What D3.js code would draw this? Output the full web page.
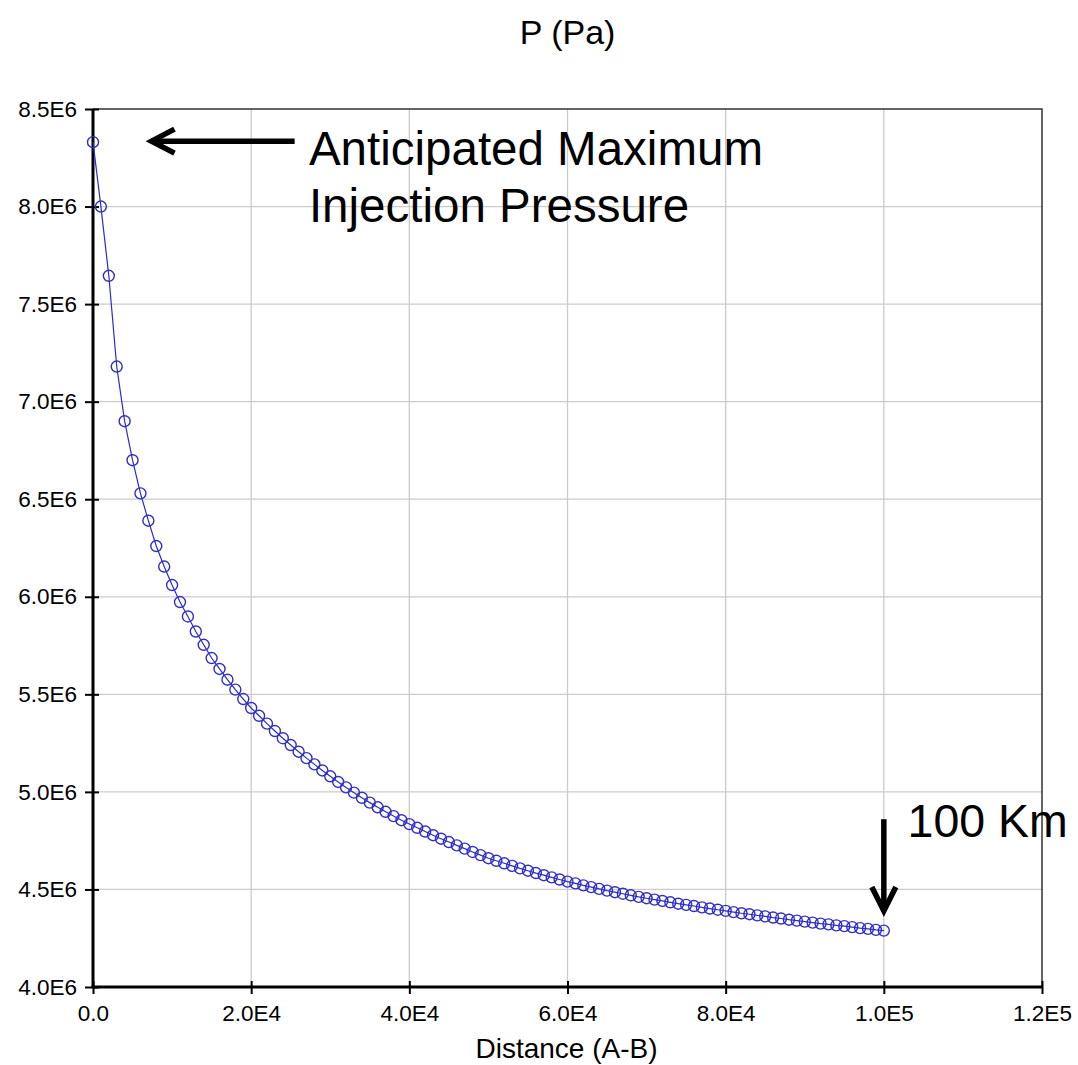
<!DOCTYPE html>
<html lang="en">
<head>
    <meta charset="UTF-8">
    <title>P (Pa) vs Distance (A-B)</title>
    <script src="https://d3js.org/d3.v7.min.js"></script>
    <style>
        body {
            margin: 0;
            background: #ffffff;
        }
        #chart text {
            font-family: 'Liberation Sans', Arial, sans-serif;
            fill: #000;
        }
    </style>
</head>
<body>
    <div id="chart"></div>

    <script>
        // distance along A-B (m)
        const distance = [
            0, 1000, 2000, 3000, 4000, 5000, 6000, 7000, 8000, 9000,
            10000, 11000, 12000, 13000, 14000, 15000, 16000, 17000, 18000, 19000,
            20000, 21000, 22000, 23000, 24000, 25000, 26000, 27000, 28000, 29000,
            30000, 31000, 32000, 33000, 34000, 35000, 36000, 37000, 38000, 39000,
            40000, 41000, 42000, 43000, 44000, 45000, 46000, 47000, 48000, 49000,
            50000, 51000, 52000, 53000, 54000, 55000, 56000, 57000, 58000, 59000,
            60000, 61000, 62000, 63000, 64000, 65000, 66000, 67000, 68000, 69000,
            70000, 71000, 72000, 73000, 74000, 75000, 76000, 77000, 78000, 79000,
            80000, 81000, 82000, 83000, 84000, 85000, 86000, 87000, 88000, 89000,
            90000, 91000, 92000, 93000, 94000, 95000, 96000, 97000, 98000, 99000,
            100000
        ];

        // pressure (Pa)
        const pressure = [
            8.330e6, 8.000e6, 7.645e6, 7.180e6, 6.900e6, 6.700e6, 6.530e6, 6.390e6, 6.260e6, 6.155e6,
            6.060e6, 5.973e6, 5.899e6, 5.822e6, 5.754e6, 5.686e6, 5.630e6, 5.575e6, 5.524e6, 5.476e6,
            5.430e6, 5.390e6, 5.350e6, 5.312e6, 5.275e6, 5.240e6, 5.206e6, 5.173e6, 5.141e6, 5.110e6,
            5.080e6, 5.051e6, 5.023e6, 4.996e6, 4.970e6, 4.945e6, 4.921e6, 4.898e6, 4.876e6, 4.855e6,
            4.835e6, 4.816e6, 4.797e6, 4.778e6, 4.760e6, 4.743e6, 4.726e6, 4.709e6, 4.692e6, 4.676e6,
            4.660e6, 4.647e6, 4.634e6, 4.621e6, 4.608e6, 4.596e6, 4.584e6, 4.573e6, 4.562e6, 4.551e6,
            4.540e6, 4.531e6, 4.521e6, 4.512e6, 4.503e6, 4.494e6, 4.486e6, 4.478e6, 4.470e6, 4.462e6,
            4.455e6, 4.448e6, 4.441e6, 4.434e6, 4.427e6, 4.421e6, 4.415e6, 4.408e6, 4.402e6, 4.396e6,
            4.390e6, 4.384e6, 4.378e6, 4.373e6, 4.367e6, 4.362e6, 4.356e6, 4.351e6, 4.345e6, 4.340e6,
            4.335e6, 4.330e6, 4.325e6, 4.321e6, 4.316e6, 4.312e6, 4.307e6, 4.302e6, 4.298e6, 4.293e6,
            4.289e6
        ];

        const xTicks = [0, 20000, 40000, 60000, 80000, 100000, 120000];
        const yTicks = [4.0e6, 4.5e6, 5.0e6, 5.5e6, 6.0e6, 6.5e6, 7.0e6, 7.5e6, 8.0e6, 8.5e6];

        const title = "P (Pa)";
        const xLabel = "Distance (A-B)";
        const noteMax = ["Anticipated Maximum", "Injection Pressure"];
        const noteEnd = "100 Km";

        const width = 1078, height = 1065;
        const margin = { top: 109, right: 36, bottom: 78, left: 93 };
        const iw = width - margin.left - margin.right;
        const ih = height - margin.top - margin.bottom;

        const x = d3.scaleLinear().domain([0, 120000]).range([0, iw]);
        const y = d3.scaleLinear().domain([4.0e6, 8.5e6]).range([ih, 0]);

        function sci(d) {
            if (d === 0) return "0.0";
            const e = Math.floor(Math.log10(d) + 1e-9);
            return (d / Math.pow(10, e)).toFixed(1) + "E" + e;
        }

        const svg = d3.select("#chart").append("svg")
            .attr("width", width)
            .attr("height", height);

        const g = svg.append("g")
            .attr("transform", `translate(${margin.left},${margin.top})`);

        // grid
        g.append("g").selectAll("line")
            .data(xTicks.slice(1, -1))
            .enter().append("line")
            .attr("x1", d => x(d)).attr("x2", d => x(d))
            .attr("y1", 0).attr("y2", ih)
            .attr("stroke", "#cbcbcb").attr("stroke-width", 1.3);

        g.append("g").selectAll("line")
            .data(yTicks.slice(1, -1))
            .enter().append("line")
            .attr("x1", 0).attr("x2", iw)
            .attr("y1", d => y(d)).attr("y2", d => y(d))
            .attr("stroke", "#cbcbcb").attr("stroke-width", 1.3);

        // top & right frame
        g.append("path")
            .attr("d", `M0,0H${iw}V${ih}`)
            .attr("fill", "none")
            .attr("stroke", "#333")
            .attr("stroke-width", 1.5);

        // axes
        const xAxis = g.append("g")
            .attr("transform", `translate(0,${ih})`)
            .call(d3.axisBottom(x).tickValues(xTicks).tickFormat(sci).tickSize(6).tickSizeOuter(0));
        const yAxis = g.append("g")
            .call(d3.axisLeft(y).tickValues(yTicks).tickFormat(sci).tickSize(8).tickSizeOuter(0));

        [xAxis, yAxis].forEach(ax => {
            ax.select(".domain").attr("stroke", "#000").attr("stroke-width", 3);
            ax.selectAll(".tick line").attr("stroke", "#000").attr("stroke-width", 2);
            ax.selectAll(".tick text").attr("font-size", 22.5).attr("fill", "#000");
        });
        // ticks cross the axis line
        xAxis.selectAll(".tick line").attr("y1", -6).attr("y2", 7);
        yAxis.selectAll(".tick line").attr("x1", 6).attr("x2", -8);
        xAxis.selectAll(".tick text").attr("y", 18);
        yAxis.selectAll(".tick text").attr("x", -16);
        xAxis.select(".domain").attr("d", `M-1.5,0H${iw}`);
        yAxis.select(".domain").attr("d", `M0,${ih}V0`);

        // series
        const line = d3.line()
            .x((d, i) => x(distance[i]))
            .y(d => y(d));

        g.append("path")
            .datum(pressure)
            .attr("d", line)
            .attr("fill", "none")
            .attr("stroke", "#2a2ad6")
            .attr("stroke-width", 1.2);

        g.append("g").selectAll("circle")
            .data(pressure)
            .enter().append("circle")
            .attr("cx", (d, i) => x(distance[i]))
            .attr("cy", d => y(d))
            .attr("r", 5.5)
            .attr("fill", "none")
            .attr("stroke", "#3030c0")
            .attr("stroke-width", 1.4);

        // titles
        svg.append("text")
            .attr("x", margin.left + iw / 2)
            .attr("y", 44)
            .attr("text-anchor", "middle")
            .attr("font-size", 34)
            .text(title);

        svg.append("text")
            .attr("x", margin.left + iw / 2 - 1)
            .attr("y", 1058)
            .attr("text-anchor", "middle")
            .attr("font-size", 28)
            .text(xLabel);

        // annotations
        const ann = g.append("g");
        const arrowY = y(pressure[0]) - 1;
        ann.append("line")
            .attr("x1", x(25500)).attr("x2", x(7400))
            .attr("y1", arrowY).attr("y2", arrowY)
            .attr("stroke", "#000").attr("stroke-width", 5.5);
        ann.append("path")
            .attr("d", `M${x(10300)},${arrowY - 12}L${x(7400)},${arrowY}L${x(10300)},${arrowY + 12}`)
            .attr("fill", "none").attr("stroke", "#000").attr("stroke-width", 5.5)
            .attr("stroke-linejoin", "miter");

        ann.selectAll("text.max")
            .data(noteMax)
            .enter().append("text")
            .attr("class", "max")
            .attr("x", x(27300))
            .attr("y", (d, i) => y(8.213e6) + i * 57)
            .attr("font-size", 47.5)
            .text(d => d);

        const ax = x(100000);
        const tipY = y(4.40e6) + 2;
        ann.append("line")
            .attr("x1", ax).attr("x2", ax)
            .attr("y1", y(4.86e6)).attr("y2", tipY)
            .attr("stroke", "#000").attr("stroke-width", 5.5);
        ann.append("path")
            .attr("d", `M${ax - 12},${tipY - 24}L${ax},${tipY}L${ax + 12},${tipY - 24}`)
            .attr("fill", "none").attr("stroke", "#000").attr("stroke-width", 5.5);

        ann.append("text")
            .attr("x", x(103000))
            .attr("y", y(4.77e6))
            .attr("font-size", 46.5)
            .text(noteEnd);
    </script>
</body>
</html>
